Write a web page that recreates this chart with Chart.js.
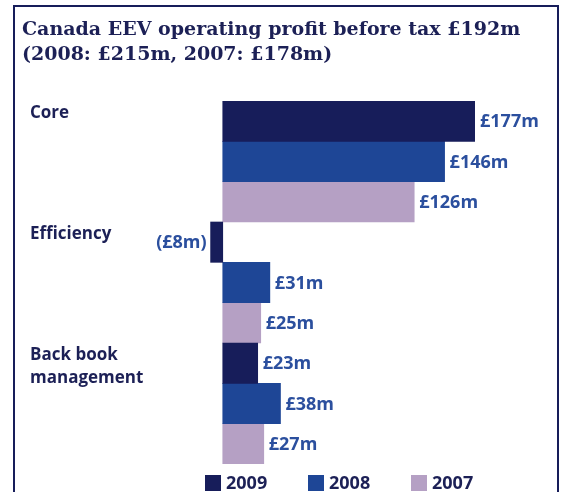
<!DOCTYPE html>
<html lang="en">
<head>
  <meta charset="UTF-8">
  <title>Canada EEV operating profit</title>
  <style>
    html, body { margin: 0; padding: 0; background: #fff; overflow: hidden; }
    canvas { display: block; }
  </style>
  <script src="https://cdn.jsdelivr.net/npm/chart.js"></script>
</head>
<body>
  <canvas id="myChart" width="561" height="492"></canvas>
  <script>
    const titleLines = ['Canada EEV operating profit before tax £192m', '(2008: £215m, 2007: £178m)'];
    const categories = [['Core'], ['Efficiency'], ['Back book', 'management']];
    const years = ['2009', '2008', '2007'];
    const values2009 = [177, -8, 23];
    const values2008 = [146, 31, 38];
    const values2007 = [126, 25, 27];

    const navy = '#171d5a';
    const textNavy = '#1c2056';
    const labelBlue = '#2b4f9e';
    const colors = ['#171d5a', '#1e4696', '#b5a0c4'];

    function fmt(v) {
      return v < 0 ? '(£' + (-v) + 'm)' : '£' + v + 'm';
    }

    // frame, title, category names, value labels and legend
    const decor = {
      id: 'decor',
      afterDatasetsDraw(chart) {
        const c = chart.ctx;
        const area = chart.chartArea;
        const y = chart.scales.y;
        c.save();

        // frame (no bottom edge)
        c.strokeStyle = navy;
        c.lineWidth = 2;
        c.beginPath();
        c.moveTo(14, 492);
        c.lineTo(14, 6);
        c.lineTo(558, 6);
        c.lineTo(558, 492);
        c.stroke();

        // title
        c.fillStyle = textNavy;
        c.font = 'bold 19px "DejaVu Serif"';
        c.textAlign = 'left';
        c.textBaseline = 'middle';
        c.fillText(titleLines[0], 22, 30);
        c.fillText(titleLines[1], 22, 55);

        // category names at the top of each group
        c.font = 'bold 17px "Open Sans"';
        const band = (y.getPixelForValue(1) - y.getPixelForValue(0));
        categories.forEach((lines, i) => {
          const top = y.getPixelForValue(i) - band / 2;
          lines.forEach((t, k) => c.fillText(t, 30, top + 12 + k * 23.5));
        });

        // value labels
        c.fillStyle = labelBlue;
        c.font = 'bold 18px "Open Sans"';
        chart.data.datasets.forEach((ds, di) => {
          chart.getDatasetMeta(di).data.forEach((bar, i) => {
            const v = ds.data[i];
            if (v < 0) {
              c.textAlign = 'right';
              c.fillText(fmt(v), bar.x - 4, bar.y + 1);
            } else {
              c.textAlign = 'left';
              c.fillText(fmt(v), Math.min(bar.x, area.right) + 5, bar.y + 1);
            }
          });
        });

        // legend
        c.font = 'bold 18px "Open Sans"';
        c.textAlign = 'left';
        const legendX = [205, 308, 411];
        chart.data.datasets.forEach((ds, di) => {
          c.fillStyle = ds.backgroundColor;
          c.fillRect(legendX[di], 475, 16, 16);
          c.fillStyle = textNavy;
          c.fillText(ds.label, legendX[di] + 21, 484);
        });

        c.restore();
      }
    };

    const ctx = document.getElementById('myChart').getContext('2d');
    const myChart = new Chart(ctx, {
      type: 'bar',
      data: {
        labels: categories.map(l => l.join(' ')),
        datasets: [
          { label: years[0], data: values2009, backgroundColor: colors[0] },
          { label: years[1], data: values2008, backgroundColor: colors[1] },
          { label: years[2], data: values2007, backgroundColor: colors[2] }
        ]
      },
      options: {
        indexAxis: 'y',
        responsive: false,
        animation: false,
        categoryPercentage: 1,
        barPercentage: 1,
        layout: { padding: { left: 203, right: 86, top: 101, bottom: 28 } },
        scales: {
          x: { display: false, min: -13, max: 166 },
          y: { display: false }
        },
        plugins: {
          legend: { display: false },
          tooltip: { enabled: false }
        }
      },
      plugins: [decor]
    });
  </script>
</body>
</html>
